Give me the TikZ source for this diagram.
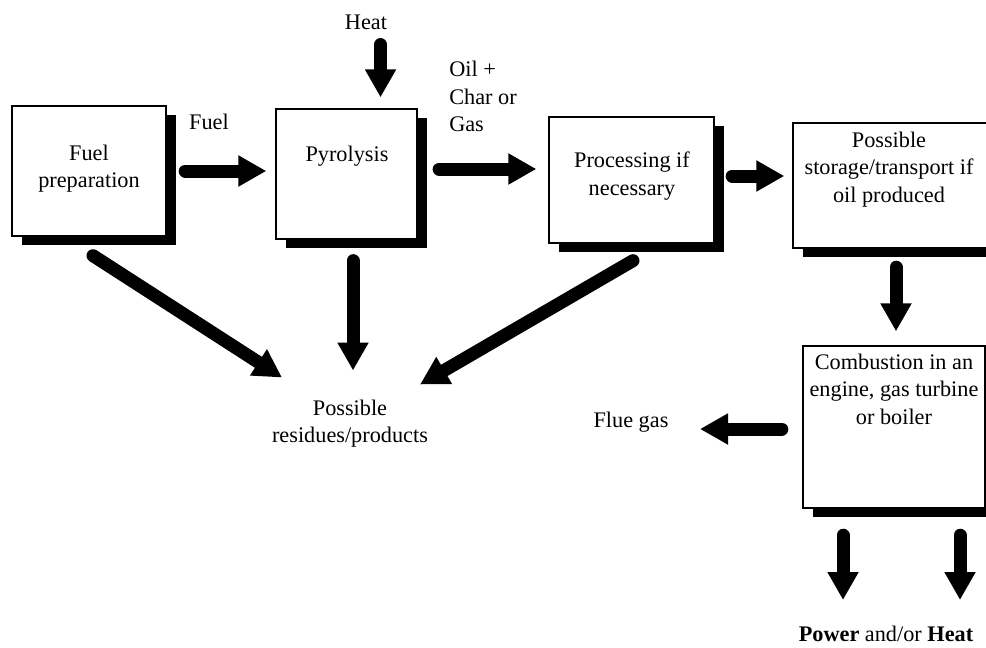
\documentclass[tikz,border=0pt]{standalone}
\usepackage{fontspec}
\setmainfont{Liberation Serif}
\usetikzlibrary{arrows.meta,shadows}
\begin{document}
\begin{tikzpicture}[x=0.75pt,y=-0.75pt,
  box/.style={draw=black, line width=1pt, fill=white, inner sep=0pt,
    drop shadow={shadow xshift=7.5pt, shadow yshift=-6.75pt, fill=black, opacity=1}},
  txt/.style={inner sep=0pt, align=center, font=\fontsize{16.7}{20.6}\selectfont},
  fat/.style={line width=9.75pt, line cap=round, -{Triangle[length=21pt,width=22pt]}}]
\useasboundingbox (0,0) rectangle (986,647);
% boxes
\node[box, minimum width=115.5pt, minimum height=97.5pt] (fp) at (89,171) {};
\node[box, minimum width=105.75pt, minimum height=97.5pt] (pyr) at (346.5,174) {};
\node[box, minimum width=123.75pt, minimum height=94.5pt] (proc) at (631.5,180) {};
\node[box, minimum width=149.25pt, minimum height=93.75pt] (stor) at (892.5,185.5) {};
\node[box, minimum width=136.5pt, minimum height=121.5pt] (comb) at (894,427) {};
% texts
\node[txt] (fpT) at (89,168.5) {Fuel\\preparation};
\node[txt] (pyrT) at (347,156) {Pyrolysis};
\node[txt] (procT) at (632,176) {Processing if\\necessary};
\node[txt] (storT) at (889,169.5) {Possible\\storage/transport if\\oil produced};
\node[txt] (combT) at (894,389) {Combustion in an\\engine, gas turbine\\or boiler};
\node[txt] (fuelL) at (209,122) {Fuel};
\node[txt] (heatL) at (366,22) {Heat};
\node[txt, align=left, anchor=west] (oilL) at (449,96.5) {Oil +\\Char or\\Gas};
\node[txt] (flueL) at (631,422) {Flue gas};
\node[txt] (resT) at (350,423.5) {Possible\\residues/products};
\node[txt] (pwrL) at (886,634) {\textbf{Power} and/or \textbf{Heat}};
% connectors
\draw[fat, shorten <=13.9pt, shorten >=6.75pt] (fp.east) -- (fp.east -| pyr.west);
\draw[fat, shorten <=16.9pt, shorten >=8.25pt] ([xshift=10.9pt]heatL.center) -- ([xshift=10.9pt]heatL.center |- pyr.north);
\draw[fat, shorten <=16.1pt, shorten >=9pt] ([yshift=3.75pt]pyr.east) -- ([yshift=3.75pt]pyr.east -| proc.west);
\draw[fat, shorten <=13.1pt, shorten >=6pt] ([yshift=3pt]proc.east) -- ([yshift=3pt]proc.east -| stor.west);
\draw[fat, shorten <=13.9pt, shorten >=10.5pt] ([xshift=1.5pt]comb.north |- stor.south) -- ([xshift=1.5pt]comb.north);
\draw[fat, shorten <=15.4pt, shorten >=51.75pt] ([yshift=-1.5pt]comb.west) -- ([yshift=-1.5pt]comb.west -| flueL.center);
\draw[fat, shorten <=19.9pt, shorten >=25.5pt] ([xshift=-38.25pt]comb.south) -- ([xshift=-38.25pt]comb.south |- pwrL.center);
\draw[fat, shorten <=19.9pt, shorten >=25.5pt] ([xshift=49.5pt]comb.south) -- ([xshift=49.5pt]comb.south |- pwrL.center);
\draw[fat] ([shift={(4,19)}]fp.south) -- ([shift={(-68,-46)}]resT.center);
\draw[fat] ([shift={(6.5,21)}]pyr.south) -- ([shift={(3,-53)}]resT.center);
\draw[fat] ([shift={(1.5,17)}]proc.south) -- ([shift={(70,-39)}]resT.center);
\end{tikzpicture}
\end{document}
